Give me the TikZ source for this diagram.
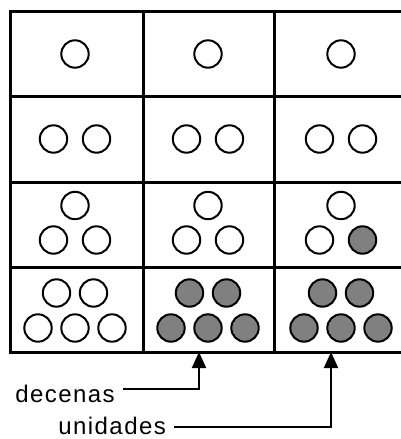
\documentclass[tikz,border=0pt]{standalone}
\usepackage{fontspec}
\newfontfamily\rotfont[LetterSpace=6]{Liberation Sans}
\usetikzlibrary{arrows.meta}
\definecolor{fichagris}{RGB}{128,128,128}
\tikzset{
  linea/.style={line width=1.5pt},
  ficha/.style={circle, draw, line width=1pt, minimum size=13.7pt, inner sep=0pt},
  llena/.style={ficha, fill=fichagris},
  rotulo/.style={font=\rotfont\fontsize{12}{15}\selectfont, inner sep=0.5pt},
  flecha/.style={line width=1pt, -{Triangle[width=7pt,length=8pt]}}
}
\begin{document}
\begin{tikzpicture}[x=0.5pt,y=-0.5pt]
    \useasboundingbox (0,0) rectangle (401,439);
    % rejilla
    \draw[linea] (401,11) -- (10,11) -- (10,352) -- (401,352);
    \foreach \y in {96,182,267} \draw[linea] (10,\y) -- (401,\y);
    \foreach \x in {143,274} \draw[linea] (\x,11) -- (\x,352);
    % fichas de cada columna
    \foreach \cx/\c/\u/\d in {75/a/ficha/ficha, 208/b/ficha/llena, 341/c/llena/llena} {
        \node[ficha] (\c1) at (\cx,54) {};
        \node[ficha] (\c2i) at (\cx-21.5,139) {};
        \node[ficha] (\c2d) at (\cx+21.5,139) {};
        \node[ficha] (\c3s) at (\cx,205.5) {};
        \node[ficha] (\c3i) at (\cx-21.5,240) {};
        \node[\u] (\c3d) at (\cx+21.5,240) {};
        \node[\d] (\c4a) at (\cx-18.5,293) {};
        \node[\d] (\c4b) at (\cx+18.5,293) {};
        \node[\d] (\c4c) at (\cx-37,328) {};
        \node[\d] (\c4d) at (\cx,328) {};
        \node[\d] (\c4e) at (\cx+37,328) {};
    }
    % rotulos
    \coordinate (pdec) at (199,352);
    \coordinate (puni) at (331,352);
    \node[rotulo, anchor=base west] (decenas) at (14,402) {decenas};
    \node[rotulo, anchor=base west] (unidades) at (57,434) {unidades};
    \draw[flecha] ([xshift=3.5pt,yshift=2.2pt]decenas.east) -| (pdec);
    \draw[flecha] ([xshift=3.5pt,yshift=-0.8pt]unidades.east) -| (puni);
\end{tikzpicture}
\end{document}
